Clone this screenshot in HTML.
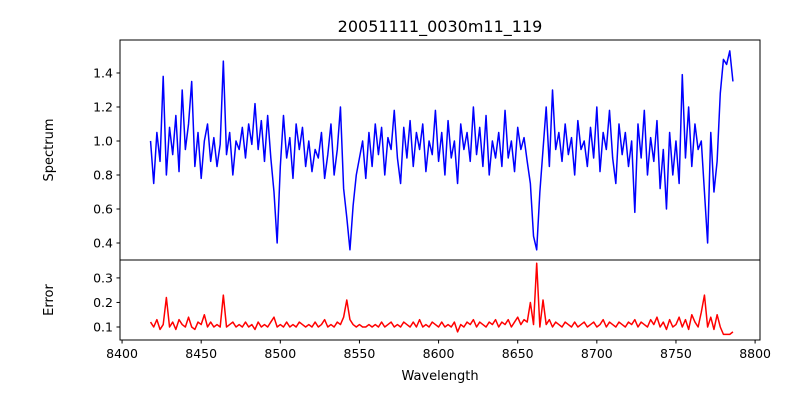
<!DOCTYPE html>
<html><head><meta charset="utf-8"><style>
body{margin:0;background:#fff;}
svg{display:block;font-family:"DejaVu Sans","Liberation Sans",sans-serif;}
</style></head><body>
<svg id="chart" width="800" height="400"></svg>
<script>
const startWave = 8418, stepWave = 2;
const spectrum = [
1.0,0.75,1.05,0.88,1.38,0.8,1.08,0.92,1.15,0.82,
1.3,0.95,1.1,1.35,0.85,1.05,0.78,1.0,1.1,0.88,
1.02,0.85,0.98,1.47,0.92,1.05,0.8,1.0,0.95,1.08,
0.9,1.1,0.98,1.22,0.95,1.12,0.88,1.15,0.9,0.7,
0.4,0.85,1.15,0.9,1.02,0.78,1.1,0.95,1.08,0.85,
1.0,0.82,0.95,0.9,1.05,0.78,0.92,1.1,0.8,0.95,
1.2,0.72,0.55,0.36,0.62,0.8,0.9,1.0,0.78,1.05,
0.85,1.1,0.92,1.08,0.8,1.02,0.95,1.18,0.9,0.75,
1.08,0.9,1.12,0.85,1.05,0.95,1.1,0.82,1.0,0.92,
1.18,0.88,1.05,0.8,1.12,0.9,1.0,0.75,1.1,0.95,
1.05,0.88,1.2,0.92,1.08,0.85,1.15,0.8,1.0,0.9,
1.05,0.85,1.18,0.9,1.0,0.82,1.08,0.95,1.02,0.88,
0.75,0.44,0.36,0.7,0.95,1.2,0.85,1.3,0.95,1.05,
0.88,1.1,0.92,1.02,0.8,1.12,0.95,1.0,0.85,1.08,
0.9,1.2,0.82,1.05,0.95,1.18,0.9,0.75,1.1,0.92,
1.05,0.85,1.0,0.58,1.1,0.9,1.18,0.8,1.02,0.88,
1.12,0.72,0.95,0.6,1.05,0.8,1.0,0.75,1.39,0.9,
1.2,0.85,1.1,0.95,1.0,0.7,0.4,1.05,0.7,0.88,
1.28,1.48,1.45,1.53,1.35];
const errors = [
0.12,0.10,0.13,0.09,0.11,0.22,0.10,0.12,0.09,0.13,
0.11,0.10,0.14,0.10,0.09,0.12,0.11,0.15,0.10,0.12,
0.10,0.11,0.10,0.23,0.10,0.11,0.12,0.10,0.11,0.10,
0.12,0.10,0.11,0.09,0.12,0.10,0.11,0.10,0.12,0.14,
0.10,0.11,0.10,0.12,0.10,0.11,0.10,0.12,0.11,0.10,
0.11,0.10,0.12,0.10,0.11,0.13,0.10,0.11,0.10,0.12,
0.11,0.14,0.21,0.13,0.11,0.10,0.11,0.10,0.10,0.11,
0.10,0.11,0.10,0.12,0.10,0.11,0.12,0.10,0.11,0.10,
0.12,0.11,0.10,0.12,0.10,0.13,0.10,0.11,0.10,0.12,
0.11,0.10,0.12,0.10,0.11,0.10,0.12,0.08,0.11,0.10,
0.12,0.11,0.13,0.10,0.12,0.11,0.10,0.12,0.11,0.13,
0.10,0.12,0.11,0.13,0.10,0.12,0.14,0.11,0.13,0.12,
0.20,0.11,0.36,0.10,0.21,0.11,0.13,0.10,0.12,0.11,
0.10,0.12,0.11,0.10,0.12,0.10,0.11,0.12,0.10,0.11,
0.12,0.10,0.11,0.13,0.10,0.12,0.11,0.10,0.12,0.11,
0.10,0.12,0.11,0.13,0.10,0.12,0.11,0.10,0.13,0.11,
0.14,0.10,0.12,0.09,0.13,0.10,0.11,0.14,0.10,0.13,
0.09,0.15,0.12,0.10,0.16,0.23,0.10,0.14,0.09,0.15,
0.10,0.07,0.07,0.07,0.08];
const xTicks = [8400,8450,8500,8550,8600,8650,8700,8750,8800];
const topTicks = [0.4,0.6,0.8,1.0,1.2,1.4];
const botTicks = [0.1,0.2,0.3];

const L=120,R=760,T1=40,B1=260,T2=260,B2=340;
const xMin=8398.7,xMax=8803.1;
const x = v => L+(v-xMin)/(xMax-xMin)*(R-L);
const yTop = v => T1+(1.594-v)/(1.594-0.3)*(B1-T1);
const yBot = v => T2+(0.373-v)/(0.373-0.047)*(B2-T2);
const svg=document.getElementById('chart');
const NS='http://www.w3.org/2000/svg';
function mk(tag,attrs,parent){const e=document.createElementNS(NS,tag);for(const k in attrs)e.setAttribute(k,attrs[k]);(parent||svg).appendChild(e);return e;}
function txt(s,attrs){const e=mk('text',attrs);e.textContent=s;return e;}

let d1=spectrum.map((v,i)=>(i?'L':'M')+x(startWave+i*stepWave).toFixed(2)+','+yTop(v).toFixed(2)).join('');
const p1=mk('path',{d:d1,fill:'none',stroke:'#0000ff','stroke-width':1.5,'stroke-linejoin':'round'});


let d2=errors.map((v,i)=>(i?'L':'M')+x(startWave+i*stepWave).toFixed(2)+','+yBot(v).toFixed(2)).join('');
const p2=mk('path',{d:d2,fill:'none',stroke:'#ff0000','stroke-width':1.5,'stroke-linejoin':'round'});



const f1=mk('rect',{x:L,y:T1,width:R-L,height:B1-T1,fill:'none',stroke:'#000','stroke-width':1});


const f2=mk('rect',{x:L,y:T2,width:R-L,height:B2-T2,fill:'none',stroke:'#000','stroke-width':1});



xTicks.forEach(t=>{const px=x(t);mk('line',{x1:px,x2:px,y1:B2,y2:B2+3.5,stroke:'#000'});
 const e=txt(String(t),{x:px,y:B2+18,'font-size':12.5,'text-anchor':'middle'});
 
 });
topTicks.forEach(t=>{const py=yTop(t);mk('line',{x1:L-3.5,x2:L,y1:py,y2:py,stroke:'#000'});
 const e=txt(t.toFixed(1),{x:L-7,y:py+4.5,'font-size':12.5,'text-anchor':'end'});
 
 });
botTicks.forEach(t=>{const py=yBot(t);mk('line',{x1:L-3.5,x2:L,y1:py,y2:py,stroke:'#000'});
 const e=txt(t.toFixed(1),{x:L-7,y:py+4.5,'font-size':12.5,'text-anchor':'end'});
 
 });

const ti=txt('20051111_0030m11_119',{x:440,y:32,'font-size':16,'text-anchor':'middle'});


const xl=txt('Wavelength',{x:440,y:380,'font-size':13,'text-anchor':'middle'});


const yl1=txt('Spectrum',{x:0,y:0,'font-size':13,'text-anchor':'middle',transform:'translate(53,150) rotate(-90)'});


const yl2=txt('Error',{x:0,y:0,'font-size':13,'text-anchor':'middle',transform:'translate(53,300) rotate(-90)'});


</script>
</body></html>
